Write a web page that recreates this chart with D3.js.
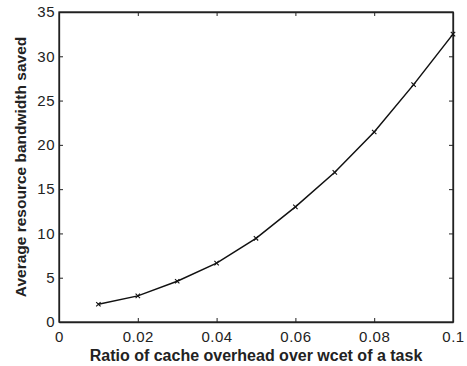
<!DOCTYPE html>
<html>
<head>
<meta charset="utf-8">
<script src="https://cdn.jsdelivr.net/npm/d3@7"></script>
<style>
  html, body { margin: 0; padding: 0; background: #fff; }
  svg { display: block; }
  .tick text { font-family: "Liberation Sans", Arial, sans-serif; font-size: 15px; letter-spacing: 0.5px; fill: #222; }
  .axis-title { font-family: "Liberation Sans", Arial, sans-serif; font-weight: bold; fill: #222; }
</style>
</head>
<body>
<svg id="chart" width="467" height="366"></svg>
<script>
// Cache overhead ratio vs. average resource bandwidth saved
const ratios = [0.01, 0.02, 0.03, 0.04, 0.05, 0.06, 0.07, 0.08, 0.09, 0.10];
const bandwidthSaved = [2.0, 2.95, 4.6, 6.65, 9.45, 13.0, 16.9, 21.45, 26.8, 32.5];
const xTicks = [0, 0.02, 0.04, 0.06, 0.08, 0.1];
const yTicks = [0, 5, 10, 15, 20, 25, 30, 35];

const svg = d3.select("#chart");
const margin = { left: 59, top: 12, right: 14, bottom: 44 };
const W = 467, H = 366;
const x = d3.scaleLinear().domain([0, 0.1]).range([margin.left, W - margin.right]);
const y = d3.scaleLinear().domain([0, 35]).range([H - margin.bottom, margin.top]);

const fmtX = d => d === 0 ? "0" : String(+d.toFixed(2));

// bottom & left axes with inward ticks
svg.append("g").attr("transform", `translate(0,${y(0)})`)
  .call(d3.axisBottom(x).tickValues(xTicks).tickFormat(fmtX).tickSizeInner(-4).tickSizeOuter(0).tickPadding(9));
svg.append("g").attr("transform", `translate(${x(0)},0)`)
  .call(d3.axisLeft(y).tickValues(yTicks).tickSizeInner(-4).tickSizeOuter(0).tickPadding(4));
// mirrored top & right ticks
svg.append("g").attr("transform", `translate(0,${y(35)})`)
  .call(d3.axisTop(x).tickValues(xTicks).tickFormat("").tickSizeInner(-4).tickSizeOuter(0));
svg.append("g").attr("transform", `translate(${x(0.1)},0)`)
  .call(d3.axisRight(y).tickValues(yTicks).tickFormat("").tickSizeInner(-4).tickSizeOuter(0));

svg.selectAll(".domain").attr("stroke", "#222").attr("stroke-width", 1.3);
svg.selectAll(".tick line").attr("stroke", "#222").attr("stroke-width", 1);

// box
svg.append("rect")
  .attr("x", x(0)).attr("y", y(35))
  .attr("width", x(0.1) - x(0)).attr("height", y(0) - y(35))
  .attr("fill", "none").attr("stroke", "#222").attr("stroke-width", 1.3);

// series line
const pts = ratios.map((r, i) => [r, bandwidthSaved[i]]);
svg.append("path")
  .datum(pts)
  .attr("fill", "none").attr("stroke", "#111").attr("stroke-width", 1.5)
  .attr("d", d3.line().x(d => x(d[0])).y(d => y(d[1])));

// x markers
const s = 2.2;
svg.append("g").selectAll("path").data(pts).join("path")
  .attr("d", d => {
    const cx = x(d[0]), cy = y(d[1]);
    return `M${cx - s},${cy - s}L${cx + s},${cy + s}M${cx - s},${cy + s}L${cx + s},${cy - s}`;
  })
  .attr("stroke", "#111").attr("stroke-width", 1.1).attr("fill", "none");

// axis titles
svg.append("text").attr("class", "axis-title")
  .attr("x", (x(0) + x(0.1)) / 2).attr("y", 361)
  .attr("text-anchor", "middle")
  .style("font-size", "16px")
  .text("Ratio of cache overhead over wcet of a task");
svg.append("text").attr("class", "axis-title")
  .attr("transform", `translate(26,${(y(0) + y(35)) / 2}) rotate(-90)`)
  .attr("text-anchor", "middle")
  .style("font-size", "15.5px")
  .text("Average resource bandwidth saved");
</script>
</body>
</html>
